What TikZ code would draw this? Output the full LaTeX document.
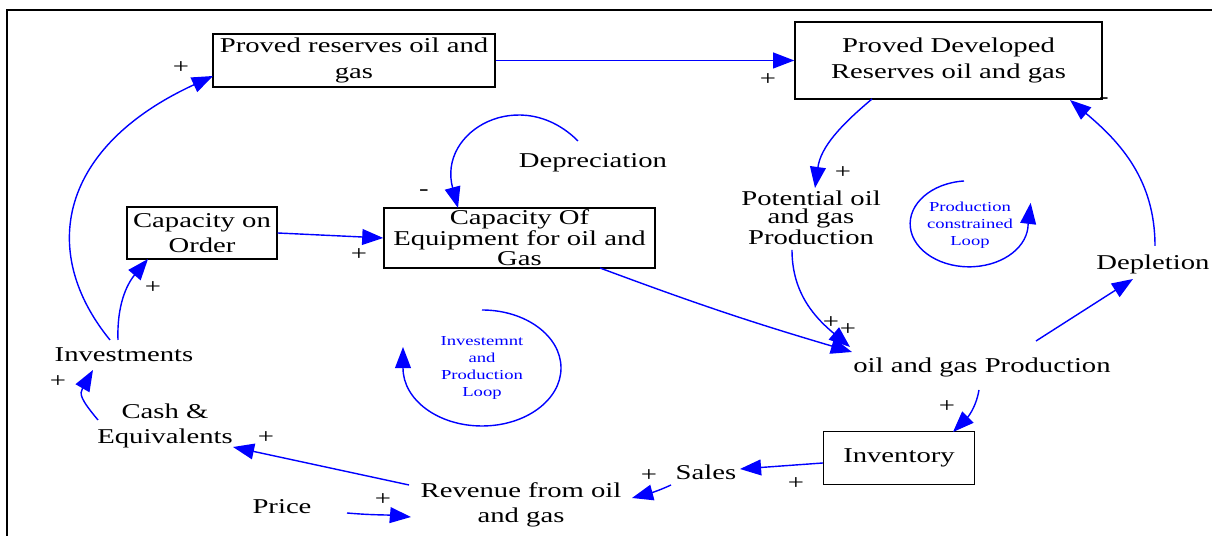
\documentclass[tikz,border=0pt,12pt]{standalone}
\usepackage{fontspec}
\setmainfont{Liberation Serif}[FakeStretch=1.36]
\usetikzlibrary{arrows.meta}

\tikzset{
  box/.style={draw, line width=0.8pt, align=center, inner sep=0pt},
  var/.style={align=center, inner sep=0pt},
  tight/.style={font=\fontsize{12}{10.4}\selectfont},
  link/.style={blue, line width=0.8pt, -{Triangle[length=12pt,width=9pt]}},
  sgn/.style={inner sep=0pt},
  looptxt/.style={blue, align=center, inner sep=0pt, font=\fontsize{7.8}{9.7}\selectfont},
}

\begin{document}
\begin{tikzpicture}
    \useasboundingbox (0,0) rectangle (24.24,10.72);
    \draw[line width=1.1pt] (0.14,0) -- (0.14,10.52) -- (24.24,10.52);

    % stocks
    \node[box, minimum width=5.64cm, minimum height=1.06cm] (PR) at (7.08,9.51) {Proved reserves oil and\\gas};
    \node[box, minimum width=6.14cm, minimum height=1.54cm] (PD) at (18.97,9.51) {Proved Developed\\Reserves oil and gas};
    \node[box, minimum width=3.0cm, minimum height=1.04cm] (CO) at (4.04,6.06) {Capacity on\\Order};
    \node[box, tight, minimum width=5.42cm, minimum height=1.2cm] (CE) at (10.39,5.96) {Capacity Of\\Equipment for oil and\\Gas};
    \node[box, minimum width=3.02cm, minimum height=1.06cm] (Inv) at (17.98,1.56) {Inventory};

    % variables
    \node[var] (Dep) at (11.86,7.46) {Depreciation};
    \node[var, tight] (Pot) at (16.22,6.36) {Potential oil\\and gas\\Production};
    \node[var] (Depl) at (23.06,5.44) {Depletion};
    \node[var] (OGP) at (19.64,3.38) {oil and gas Production};
    \node[var] (Sales) at (14.12,1.28) {Sales};
    \node[var] (Rev) at (10.42,0.62) {Revenue from oil\\and gas};
    \node[var] (Price) at (5.64,0.58) {Price};
    \node[var] (Cash) at (3.3,2.2) {Cash \&\\Equivalents};
    \node[var] (Invest) at (2.48,3.62) {Investments};

    % loops
    \node[looptxt] (LoopA) at (9.64,3.36) {Investemnt\\and\\Production\\Loop};
    \node[looptxt] (LoopB) at (19.4,6.22) {Production\\constrained\\Loop};
    \draw[link] ([shift={(0,1.16)}]LoopA.center) arc[start angle=90, end angle=-180, x radius=1.58, y radius=1.16] -- ++(0,0.42);
    \draw[link] ([shift={(-0.12,0.88)}]LoopB.center) arc[start angle=95, end angle=360, x radius=1.18, y radius=0.86] -- ++(0.05,0.42);

    % links
    \draw[link] ([shift={(-0.28,0.3)}]Invest.center) .. controls +(-1.45,1.78) and +(-3.06,-1.41) .. ([shift={(-2.82,-0.31)}]PR.center);
    \draw[link] ([shift={(-0.12,0.3)}]Invest.center) to[out=92,in=230] ([shift={(-1.08,-0.52)}]CO.center);
    \draw[link] (CO.east) -- (CE.west);
    \draw[link] ([shift={(-0.3,0.44)}]Dep.center) to[out=135,in=105,looseness=1.5] ([shift={(-1.23,0.6)}]CE.center);
    \draw[link] ([shift={(1.61,-0.6)}]CE.center) to[bend right=2] ([shift={(-2.6,0.3)}]OGP.center);
    \draw[link] ([shift={(-0.38,-0.64)}]Pot.center) to[out=270,in=140] ([shift={(-2.64,0.4)}]OGP.center);
    \draw[link] ([shift={(-1.53,-0.77)}]PD.center) to[out=220,in=82] ([shift={(0.08,0.6)}]Pot.center);
    \draw[link] ([shift={(1.08,0.52)}]OGP.center) -- ([shift={(-0.4,-0.3)}]Depl.center);
    \draw[link] ([shift={(0.04,0.36)}]Depl.center) to[out=90,in=-40] ([shift={(2.43,-0.79)}]PD.center);
    \draw[link] (PR.east) -- (PD.west);
    \draw[link] ([shift={(-0.06,-0.46)}]OGP.center) to[out=-100,in=45] ([shift={(1.08,0.52)}]Inv.center);
    \draw[link] ([yshift=-0.1cm]Inv.west) -- ([shift={(0.68,0.06)}]Sales.center);
    \draw[link] ([shift={(-0.7,-0.26)}]Sales.center) to[out=205,in=15] ([shift={(2.22,0.14)}]Rev.center);
    \draw[link] ([shift={(-2.24,0.4)}]Rev.center) -- ([shift={(1.36,-0.42)}]Cash.center);
    \draw[link] ([shift={(-1.34,0.12)}]Cash.center) to[out=130,in=240,looseness=1.4] ([shift={(-0.62,-0.3)}]Invest.center);
    \draw[link] ([shift={(1.3,-0.12)}]Price.center) to[out=-5,in=175] ([shift={(-2.2,-0.24)}]Rev.center);

    % polarities
    \node[sgn] (sInvPR) at (3.62,9.36) {+};
    \node[sgn] (sPRPD) at (15.36,9.12) {+};
    \node[sgn] (sPDPot) at (16.86,7.26) {+};
    \node[sgn] (sDeplPD) at (22.08,8.7) {-};
    \node[sgn] (sDepCE) at (8.48,6.86) {-};
    \node[sgn] (sCOCE) at (7.18,5.62) {+};
    \node[sgn] (sInvCO) at (3.06,4.96) {+};
    \node[sgn] (sCEOGP) at (16.62,4.26) {+};
    \node[sgn] (sPotOGP) at (16.96,4.12) {+};
    \node[sgn] (sOGPInv) at (18.94,2.58) {+};
    \node[sgn] (sInvSales) at (15.92,1.04) {+};
    \node[sgn] (sSalesRev) at (12.98,1.2) {+};
    \node[sgn] (sPriceRev) at (7.66,0.72) {+};
    \node[sgn] (sRevCash) at (5.32,1.96) {+};
    \node[sgn] (sCashInv) at (1.16,3.08) {+};
\end{tikzpicture}
\end{document}
